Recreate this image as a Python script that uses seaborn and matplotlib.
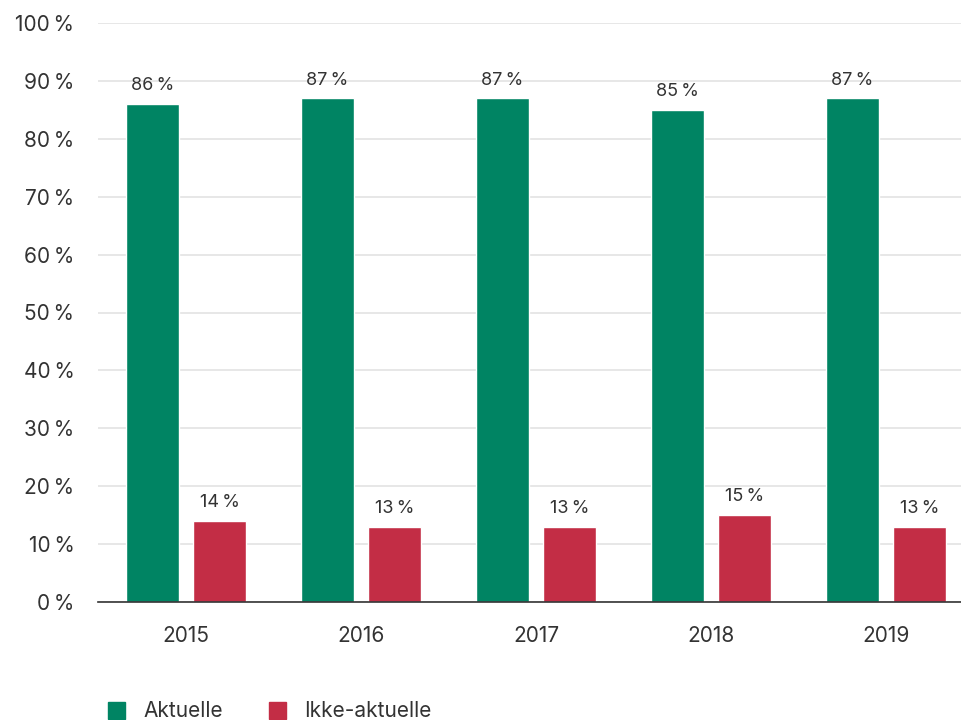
"""Aktuelle vs ikke-aktuelle, 2015-2019."""
import matplotlib.pyplot as plt
import pandas as pd
import seaborn as sns
from matplotlib.patches import Patch

years = ["2015", "2016", "2017", "2018", "2019"]
aktuelle = [86, 87, 87, 85, 87]
ikke_aktuelle = [14, 13, 13, 15, 13]
series = ["Aktuelle", "Ikke-aktuelle"]
y_ticks = list(range(0, 101, 10))

GREEN = "#008463"
RED = "#C32D45"
TEXT = "#333333"
SP = "\u2009"  # thin space before the percent sign

df = pd.DataFrame({
    "year": years * 2,
    "value": aktuelle + ikke_aktuelle,
    "series": [series[0]] * len(years) + [series[1]] * len(years),
})

sns.set_theme(style="white")
plt.rcParams["font.family"] = ["Inter", "DejaVu Sans"]

fig = plt.figure(figsize=(9.62, 7.2), dpi=100)
ax = fig.add_axes([98 / 962, 1 - 602 / 720, 1 - 98 / 962, 579 / 720])

sns.barplot(
    data=df, x="year", y="value", hue="series",
    palette=[GREEN, RED], width=0.766, gap=0.21,
    ax=ax, legend=False, saturation=1,
)

for cont in ax.containers:
    ax.bar_label(cont, labels=[f"{v:.0f}{SP}%" for v in cont.datavalues],
                 padding=7, fontsize=13, color=TEXT)

ax.set_ylim(0, 100)
ax.set_xlim(-0.503, 4.434)
ax.set_yticks(y_ticks)
ax.set_yticklabels([f"{t}{SP}%" for t in y_ticks])
ax.yaxis.grid(True, color="#e3e3e3", lw=1.2)
ax.set_axisbelow(True)
ax.set_xlabel("")
ax.set_ylabel("")
for side in ["top", "right", "left"]:
    ax.spines[side].set_visible(False)
ax.spines["bottom"].set_color(TEXT)
ax.spines["bottom"].set_linewidth(1.2)
ax.tick_params(axis="y", length=0, pad=17, labelsize=15, labelcolor=TEXT)
ax.tick_params(axis="x", length=0, pad=17, labelsize=15, labelcolor=TEXT)

handles = [Patch(color=GREEN, label=series[0]), Patch(color=RED, label=series[1])]
fig.legend(
    handles=handles, loc="lower left", bbox_to_anchor=(89 / 962, -0.028),
    ncol=2, frameon=False, fontsize=15, handlelength=0.85, handleheight=0.85,
    handletextpad=0.85, columnspacing=2.2, labelcolor=TEXT,
)

fig.savefig("out.png", dpi=100)
